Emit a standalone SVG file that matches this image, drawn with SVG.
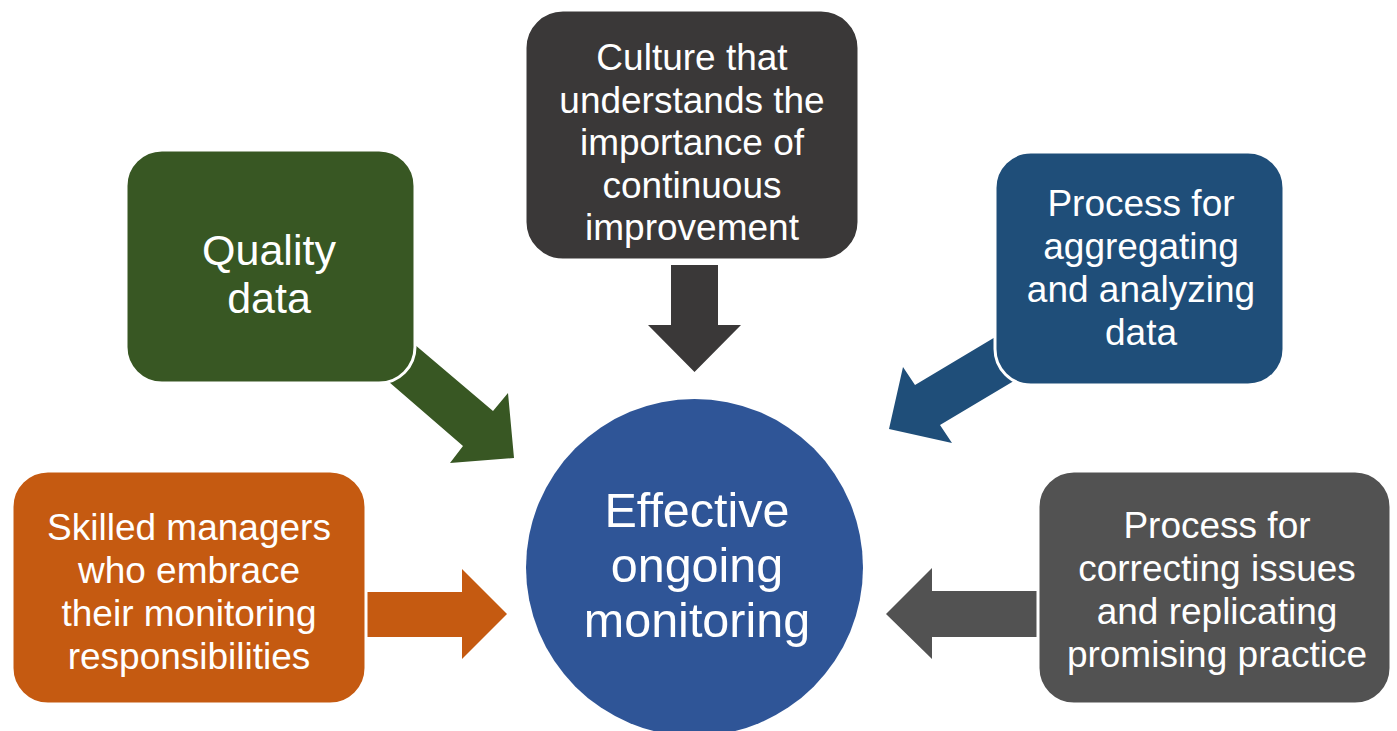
<svg xmlns="http://www.w3.org/2000/svg" width="1397" height="731" viewBox="0 0 1397 731">
<style>
.box{stroke:#ffffff;stroke-width:3}
.t{font-family:"Liberation Sans",Arial,sans-serif;fill:#ffffff;text-anchor:middle}
.s{font-size:37px}
</style>
<rect width="1397" height="731" fill="#ffffff"/>
<g id="connectors">
<polygon id="arrow-green" fill="#385723" points="401,333 493,411 508,393 514,458 450,463 463,446 374,369"/>
<polygon id="arrow-dark" fill="#3a3838" points="671,265 718,265 718,325 741,325 694.5,372 648,325 671,325"/>
<polygon id="arrow-blue" fill="#1f4e79" points="1007,330 915,385 903,367 889,429 952,443 940,425 1027,373"/>
<polygon id="arrow-orange" fill="#c55a11" points="360,592 462,592 462,569 507,614 462,659 462,637 360,637"/>
<polygon id="arrow-gray" fill="#525252" points="1045,591 932,591 932,568 886,614 932,659 932,637 1045,637"/>
</g>
<g id="node-quality">
<rect class="box" x="126" y="150" width="289" height="233" rx="36" fill="#385723"/>
<text class="t" font-size="43" x="269" y="265">Quality</text>
<text class="t" font-size="43" x="269" y="313">data</text>
</g>
<g id="node-culture">
<rect class="box" x="525" y="10" width="334" height="250" rx="38" fill="#3a3838"/>
<text class="t s" x="692" y="70">Culture that</text>
<text class="t s" x="692" y="112.5">understands the</text>
<text class="t s" x="692" y="155">importance of</text>
<text class="t s" x="692" y="197.5">continuous</text>
<text class="t s" x="692" y="240">improvement</text>
</g>
<g id="node-process-aggregate">
<rect class="box" x="995" y="152" width="289" height="233" rx="36" fill="#1f4e79"/>
<text class="t s" x="1141" y="216">Process for</text>
<text class="t s" x="1141" y="259">aggregating</text>
<text class="t s" x="1141" y="302">and analyzing</text>
<text class="t s" x="1141" y="345">data</text>
</g>
<g id="node-skilled">
<rect class="box" x="12" y="471" width="354" height="233" rx="36" fill="#c55a11"/>
<text class="t s" x="189" y="540">Skilled managers</text>
<text class="t s" x="189" y="583">who embrace</text>
<text class="t s" x="189" y="626">their monitoring</text>
<text class="t s" x="189" y="669">responsibilities</text>
</g>
<g id="node-process-correct">
<rect class="box" x="1038" y="471" width="353" height="233" rx="36" fill="#525252"/>
<text class="t s" x="1217" y="538">Process for</text>
<text class="t s" x="1217" y="581">correcting issues</text>
<text class="t s" x="1217" y="624">and replicating</text>
<text class="t s" x="1217" y="667">promising practice</text>
</g>
<g id="node-center">
<circle cx="694.5" cy="567.5" r="168.5" fill="#2f5597"/>
<text class="t" font-size="48.5" x="697" y="527">Effective</text>
<text class="t" font-size="48.5" x="697" y="582">ongoing</text>
<text class="t" font-size="48.5" x="697" y="637">monitoring</text>
</g>
</svg>
